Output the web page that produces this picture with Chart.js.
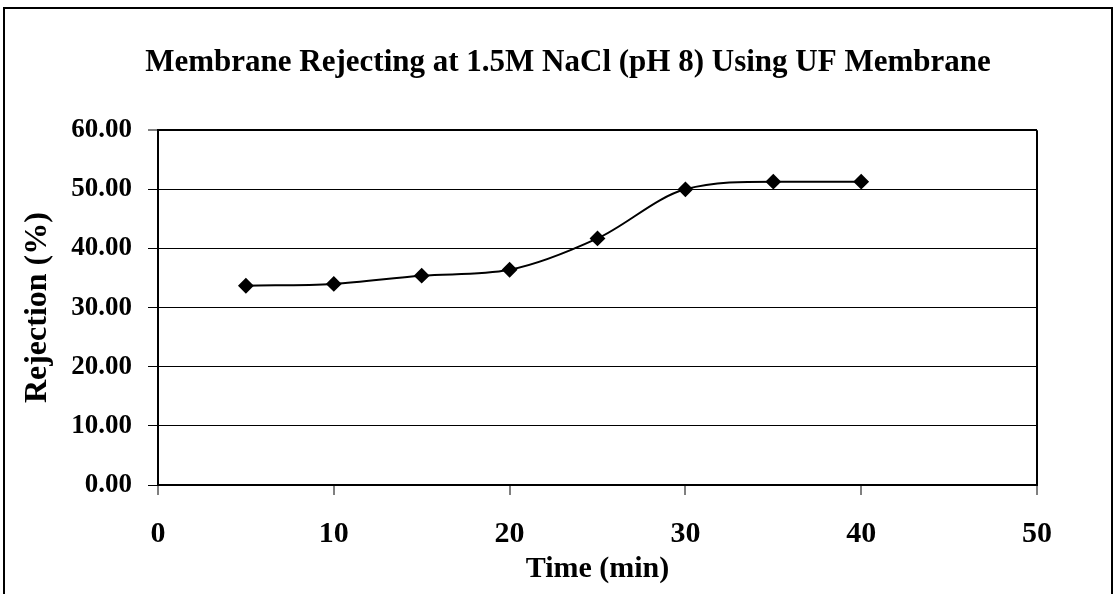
<!DOCTYPE html>
<html>
<head>
<meta charset="utf-8">
<script src="https://cdn.jsdelivr.net/npm/chart.js@4/dist/chart.umd.min.js"></script>
<style>
  html, body { margin: 0; padding: 0; background: #fff; overflow: hidden; }
  #wrap { position: absolute; left: 0; top: 0; width: 1114px; height: 594px; }
  #frame { position: absolute; left: 3px; top: 7px; width: 1106px; height: 640px;
           border: 2px solid #000; border-bottom: none; pointer-events: none; }
</style>
</head>
<body>
<div id="wrap"><canvas id="rejChart"></canvas></div>
<div id="frame"></div>
<script>
// values
const times = [5, 10, 15, 20, 25, 30, 35, 40];
const rejection = [33.7, 34.0, 35.4, 36.4, 41.7, 50.0, 51.3, 51.3];

const xTicks = { min: 0, max: 50, step: 10 };
const yTicks = { min: 0, max: 60, step: 10 };

const serif = "'Liberation Serif', 'Times New Roman', serif";

const points = times.map((t, i) => ({ x: t, y: rejection[i] }));

const ctx = document.getElementById('rejChart').getContext('2d');
const chart = new Chart(ctx, {
  type: 'line',
  data: {
    datasets: [{
      label: 'Rejection',
      data: points,
      borderColor: '#000',
      borderWidth: 2,
      backgroundColor: '#000',
      pointStyle: 'rectRot',
      pointRadius: 6.5,
      pointBackgroundColor: '#000',
      pointBorderColor: '#000',
      cubicInterpolationMode: 'monotone',
      fill: false
    }]
  },
  options: {
    responsive: true,
    maintainAspectRatio: false,
    animation: false,
    layout: { padding: { left: 22, right: 0, top: 0, bottom: 0 } },
    plugins: {
      legend: { display: false },
      tooltip: { enabled: false },
      title: {
        display: true,
        text: 'Membrane Rejecting at 1.5M NaCl (pH 8) Using UF Membrane',
        color: '#000',
        font: { family: serif, size: 31, weight: 'bold', lineHeight: 1.2 },
        padding: { top: 44, bottom: 49 }
      }
    },
    scales: {
      x: {
        type: 'linear',
        min: xTicks.min,
        max: xTicks.max,
        afterFit: s => { s.height = 109; },
        border: { display: true, color: '#000', width: 2 },
        grid: {
          color: c => (c.tick && c.tick.value === xTicks.max) ? '#000' : 'rgba(0,0,0,0)',
          lineWidth: 2,
          tickColor: '#000',
          tickWidth: 1,
          tickLength: 10,
          drawTicks: true
        },
        ticks: {
          stepSize: xTicks.step,
          color: '#000',
          padding: 21,
          maxRotation: 0,
          font: { family: serif, size: 30, weight: 'bold' }
        },
        title: {
          display: true,
          text: 'Time (min)',
          color: '#000',
          font: { family: serif, size: 30, weight: 'bold', lineHeight: 1.2 },
          padding: { top: 0, bottom: 7 }
        }
      },
      y: {
        min: yTicks.min,
        max: yTicks.max,
        afterFit: s => { s.width = 136; },
        border: { display: true, color: '#000', width: 2 },
        grid: {
          color: '#000',
          lineWidth: c => (c.tick && c.tick.value === yTicks.max) ? 2 : 1,
          tickColor: '#000',
          tickWidth: 1,
          tickLength: 10
        },
        ticks: {
          stepSize: yTicks.step,
          color: '#000',
          padding: 16,
          font: { family: serif, size: 27, weight: 'bold' },
          callback: v => Number(v).toFixed(2)
        },
        title: {
          display: true,
          text: 'Rejection (%)',
          color: '#000',
          font: { family: serif, size: 32, weight: 'bold', lineHeight: 1 },
          padding: { top: 0, bottom: 0 }
        }
      },
      // empty right-hand axis: only reserves the blank strip right of the plot
      yPad: {
        type: 'linear',
        position: 'right',
        display: true,
        afterFit: s => { s.width = 77; },
        border: { display: false },
        grid: { display: false, drawTicks: false },
        ticks: { display: false }
      }
    }
  }
});
</script>
</body>
</html>
